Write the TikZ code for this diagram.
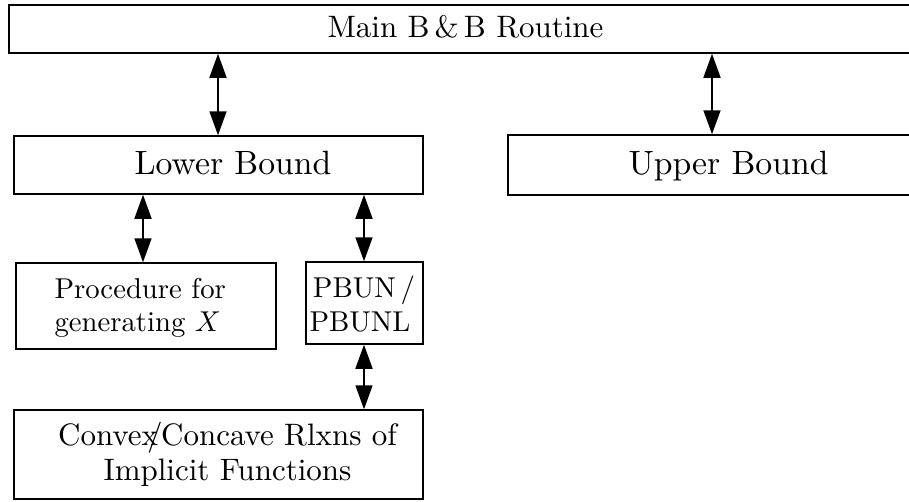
\documentclass[tikz,border=0pt]{standalone}
\usetikzlibrary{arrows.meta}
\begin{document}
\begin{tikzpicture}[x=1pt,y=-1pt,
  box/.style={draw,line width=1.5pt,inner sep=0pt,rectangle},
  big/.style={inner sep=0pt,anchor=base,scale=3.37},
  small/.style={inner sep=0pt,anchor=base,scale=2.87},
  mid/.style={inner sep=0pt,anchor=base,scale=3.1},
  dbl/.style={line width=1.6pt,{Triangle[width=17pt,length=24pt]}-{Triangle[width=17pt,length=24pt]}}]
\useasboundingbox (0,0) rectangle (909,501);
\clip (0,0) rectangle (909,501);
% boxes
\node[box,minimum width=946pt,minimum height=48pt] (main) at (482,29) {};
\node[box,minimum width=409pt,minimum height=58pt] (lower) at (218.5,165) {};
\node[box,minimum width=444pt,minimum height=60pt] (upper) at (730,165) {};
\node[box,minimum width=260pt,minimum height=86pt] (proc) at (146,306) {};
\node[box,minimum width=117pt,minimum height=82pt] (pbun) at (364.5,303) {};
\node[box,minimum width=409pt,minimum height=89pt] (cvx) at (218.5,454.5) {};
% texts
\node[mid] (tmain) at (465.5,37) {Main B\,\&\,B Routine};
\node[big] (tlower) at (233,174) {Lower Bound};
\node[big] (tupper) at (728.5,174) {Upper Bound};
\node[small,anchor=base west] (tproc1) at (54,298.5) {Procedure for};
\node[small,anchor=base west] (tproc2) at (54,331) {generating $X$};
\node[small] (tpbun1) at (364,297) {PBUN\,/};
\node[small] (tpbun2) at (360,331) {PBUNL};
\node[mid] (tcvx1) at (227.5,445) {Convex\kern-0.35em/\kern-0.05em Concave Rlxns of};
\node[mid] (tcvx2) at (227.5,480) {Implicit Functions};
% arrow columns
\coordinate (c1) at (218,0);
\coordinate (c2) at (712,0);
\coordinate (c3) at (143,0);
\coordinate (c4) at (364,0);
\draw[dbl] (main.south -| c1) -- (lower.north -| c1);
\draw[dbl] (main.south -| c2) -- (upper.north -| c2);
\draw[dbl] (lower.south -| c3) -- (proc.north -| c3);
\draw[dbl] (lower.south -| c4) -- (pbun.north -| c4);
\draw[dbl] (pbun.south -| c4) -- (cvx.north -| c4);
\end{tikzpicture}
\end{document}
